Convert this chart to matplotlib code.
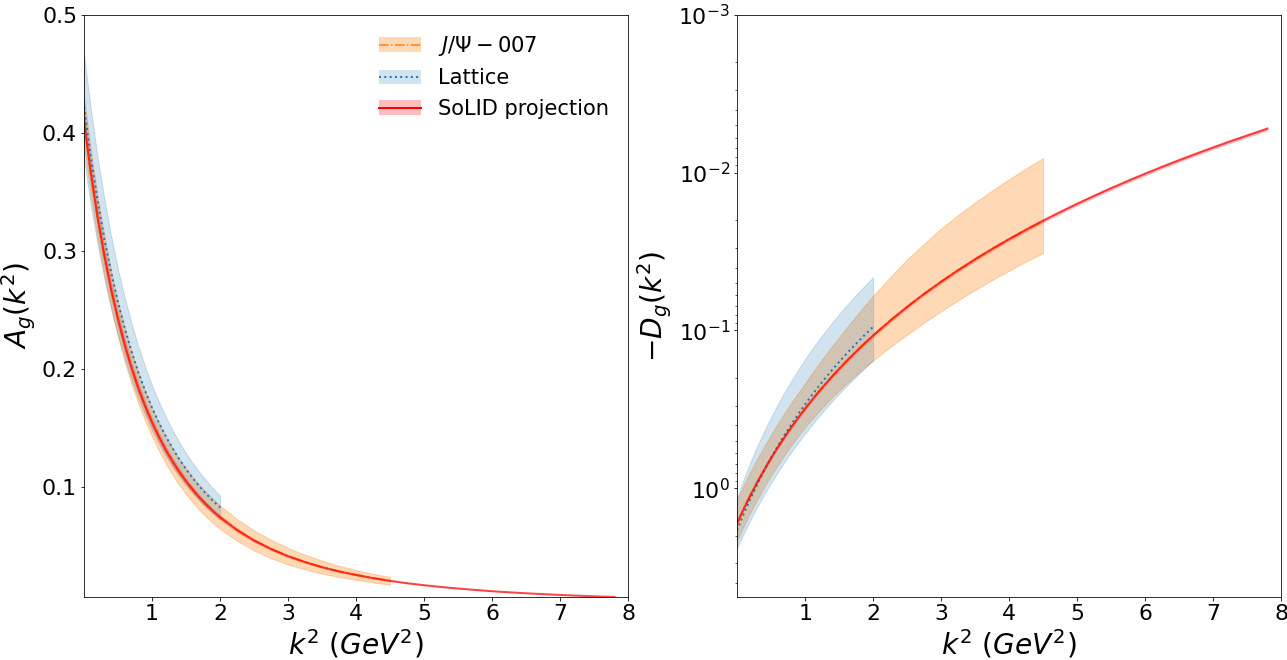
import numpy as np
import matplotlib.pyplot as plt
from matplotlib.patches import Patch
from matplotlib.lines import Line2D

# k^2 grid (GeV^2)
k2 = [0.0, 0.1, 0.2, 0.3, 0.4, 0.5, 0.6, 0.7, 0.8, 0.9, 1.0, 1.1, 1.2, 1.3,
      1.4, 1.5, 1.6, 1.7, 1.8, 1.9, 2.0, 2.25, 2.5, 2.75, 3.0, 3.25, 3.5,
      3.75, 4.0, 4.25, 4.5, 4.75, 5.0, 5.25, 5.5, 5.75, 6.0, 6.25, 6.5,
      6.75, 7.0, 7.25, 7.5, 7.75, 7.8]
n_jpsi = 31   # J/Psi-007 band stops at k^2 = 4.5
n_lat = 21    # lattice band stops at k^2 = 2

# A_g(k^2)
A_sol = [0.4100, 0.3661, 0.3283, 0.2955, 0.2669, 0.2419, 0.2199, 0.2005, 0.1833,
         0.1681, 0.1545, 0.1423, 0.1313, 0.1215, 0.1126, 0.1046, 0.0973, 0.0906,
         0.0846, 0.0791, 0.0740, 0.0632, 0.0543, 0.0471, 0.0410, 0.0360, 0.0317,
         0.0281, 0.0251, 0.0224, 0.0201, 0.0181, 0.0164, 0.0149, 0.0136, 0.0124,
         0.0113, 0.0104, 0.00956, 0.00882, 0.00815, 0.00754, 0.00699, 0.00650,
         0.00641]
A_jpsi_err = [0.020, 0.019, 0.018, 0.017, 0.016, 0.015, 0.0144, 0.0138, 0.0132,
              0.0126, 0.012, 0.0118, 0.0116, 0.0114, 0.0112, 0.011, 0.0108,
              0.0106, 0.0104, 0.0102, 0.010, 0.0092, 0.0085, 0.0078, 0.007,
              0.0062, 0.0055, 0.0048, 0.0042, 0.0037, 0.0032]
A_lat = [0.4220, 0.3793, 0.3421, 0.3097, 0.2812, 0.2561, 0.2339, 0.2142, 0.1966,
         0.1810, 0.1669, 0.1543, 0.1429, 0.1326, 0.1232, 0.1148, 0.1070, 0.1000,
         0.0936, 0.0877, 0.0823]
A_lat_err = [0.044, 0.041, 0.037, 0.034, 0.031, 0.028, 0.026, 0.024, 0.022,
             0.0205, 0.019, 0.0177, 0.0165, 0.0155, 0.0145, 0.0136, 0.0128,
             0.012, 0.0113, 0.0106, 0.010]

# -D_g(k^2)
D_sol = [1.670, 1.3457, 1.1002, 0.9110, 0.7627, 0.6450, 0.5503, 0.4733, 0.4100,
         0.3575, 0.3136, 0.2766, 0.2452, 0.2184, 0.1953, 0.1754, 0.1581, 0.1430,
         0.1298, 0.1181, 0.1078, 0.08684, 0.07096, 0.05873, 0.04915, 0.04155,
         0.03544, 0.03047, 0.02639, 0.02300, 0.02017, 0.01779, 0.01577, 0.01404,
         0.01256, 0.01127, 0.01016, 0.00919, 0.00834, 0.00759, 0.00693, 0.00634,
         0.00582, 0.00535, 0.00526]
D_jpsi_err = [0.4843, 0.3903, 0.3191, 0.2642, 0.2212, 0.1871, 0.1618, 0.1410,
              0.1238, 0.1094, 0.0972, 0.0891, 0.0819, 0.0756, 0.0699, 0.0649,
              0.0607, 0.0569, 0.0535, 0.0503, 0.0474, 0.0408, 0.0355, 0.0305,
              0.0265, 0.0230, 0.0200, 0.0175, 0.0154, 0.0136, 0.0121]
D_lat = [1.850, 1.4503, 1.1579, 0.9391, 0.7721, 0.6425, 0.5403, 0.4587, 0.3928,
         0.3389, 0.2944, 0.2574, 0.2263, 0.2001, 0.1777, 0.1586, 0.1421, 0.1278,
         0.1154, 0.1045, 0.0950]
D_lat_lo = [1.150, 0.8732, 0.6785, 0.5376, 0.4332, 0.3542, 0.2933, 0.2456,
            0.2077, 0.1772, 0.1524, 0.1320, 0.1151, 0.1010, 0.0891, 0.0789,
            0.0703, 0.0629, 0.0565, 0.0509, 0.0460]
D_lat_hi = [2.400, 1.934, 1.581, 1.309, 1.096, 0.927, 0.791, 0.680, 0.589, 0.514,
            0.451, 0.398, 0.352, 0.314, 0.281, 0.252, 0.227, 0.206, 0.187,
            0.170, 0.155]

sol_rel_err = 0.03

k2 = np.array(k2)
A_sol = np.array(A_sol)
D_sol = np.array(D_sol)
k2_j, k2_l = k2[:n_jpsi], k2[:n_lat]

fig = plt.figure(figsize=(1287 / 72, 660 / 72), dpi=72)
ax1 = fig.add_axes([0.0653, 0.0955, 0.4227, 0.8818])
ax2 = fig.add_axes([0.5727, 0.0955, 0.4227, 0.8818])

# left: A_g
ax1.fill_between(k2_j, A_sol[:n_jpsi] - A_jpsi_err, A_sol[:n_jpsi] + A_jpsi_err,
                 color='C1', alpha=0.3)
ax1.plot(k2_j, A_sol[:n_jpsi], color='C1', ls='-.', lw=2)
ax1.fill_between(k2_l, np.array(A_lat) - A_lat_err, np.array(A_lat) + A_lat_err,
                 color='C0', alpha=0.2)
ax1.plot(k2_l, A_lat, color='C0', ls=':', lw=2)
ax1.fill_between(k2, A_sol * (1 - sol_rel_err), A_sol * (1 + sol_rel_err),
                 color='red', alpha=0.25, lw=0)
ax1.plot(k2, A_sol, color='red', alpha=0.7, lw=2)
ax1.set_xlim(0, 8)
ax1.set_ylim(A_sol.min(), 0.5)
ax1.set_xticks(range(1, 9))
ax1.set_yticks([0.1, 0.2, 0.3, 0.4, 0.5])
ax1.set_xlabel(r'$k^2\ (GeV^2)$', fontsize=28)
ax1.set_ylabel(r'$A_g(k^2)$', fontsize=28)
ax1.tick_params(labelsize=22)

handles = [
    (Patch(color='C1', alpha=0.3, lw=0), Line2D([], [], color='C1', ls='-.')),
    (Patch(color='C0', alpha=0.2, lw=0), Line2D([], [], color='C0', ls=':', lw=2)),
    (Patch(color='red', alpha=0.25, lw=0), Line2D([], [], color='red', lw=2)),
]
ax1.legend(handles, [r'$J/\Psi-007$', 'Lattice', 'SoLID projection'],
           loc='upper right', frameon=False, fontsize=21)

# right: -D_g
D_j = D_sol[:n_jpsi]
ax2.fill_between(k2_j, D_j - D_jpsi_err, D_j + D_jpsi_err, color='C1', alpha=0.3)
ax2.plot(k2_j, D_j, color='C1', ls='-.', lw=2)
ax2.fill_between(k2_l, D_lat_lo, D_lat_hi, color='C0', alpha=0.2)
ax2.plot(k2_l, D_lat, color='C0', ls=':', lw=2)
ax2.fill_between(k2, D_sol * (1 - sol_rel_err), D_sol * (1 + sol_rel_err),
                 color='red', alpha=0.25, lw=0)
ax2.plot(k2, D_sol, color='red', alpha=0.7, lw=2)
ax2.set_yscale('log')
ax2.set_ylim(4.9, 1e-3)
ax2.set_xlim(0, 8)
ax2.set_xticks(range(1, 9))
ax2.set_xlabel(r'$k^2\ (GeV^2)$', fontsize=28)
ax2.set_ylabel(r'$-D_g(k^2)$', fontsize=28)
ax2.tick_params(labelsize=22)

fig.savefig('out.png', dpi=72)
